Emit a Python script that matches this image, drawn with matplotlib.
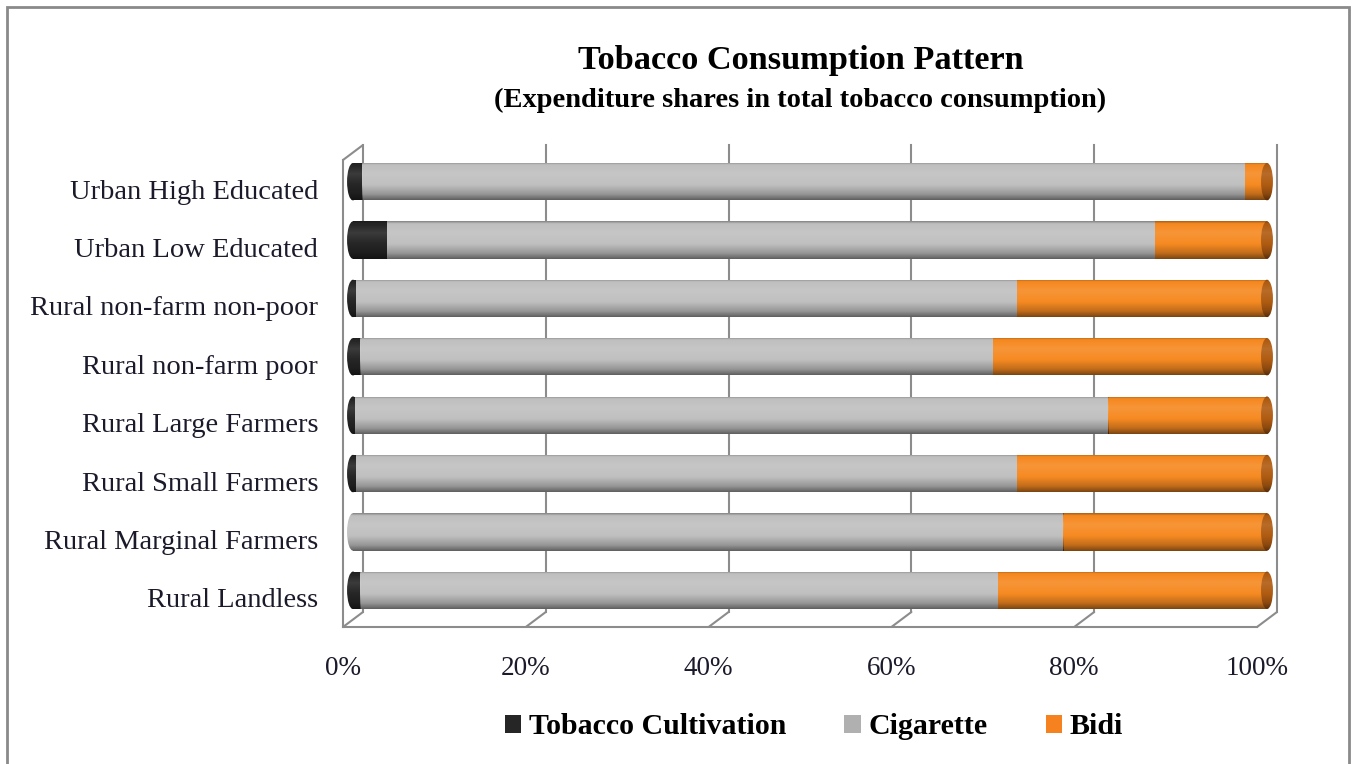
import numpy as np
import matplotlib
matplotlib.use("Agg")
import matplotlib.pyplot as plt
import matplotlib.transforms as mtransforms
from matplotlib.patches import Rectangle, Ellipse, Patch

# ---------------- data ----------------
categories = ["Urban High Educated", "Urban Low Educated", "Rural non-farm non-poor",
              "Rural non-farm poor", "Rural Large Farmers", "Rural Small Farmers",
              "Rural Marginal Farmers", "Rural Landless"]
tobacco_cultivation = [1.0, 3.7, 0.3, 0.8, 0.2, 0.3, 0.0, 0.8]
cigarette = [96.6, 84.0, 72.3, 69.2, 82.4, 72.3, 77.7, 69.8]
bidi = [2.4, 12.3, 27.4, 30.0, 17.4, 27.4, 22.3, 29.4]
series_names = ["Tobacco Cultivation", "Cigarette", "Bidi"]
x_ticks = [0, 20, 40, 60, 80, 100]
x_tick_labels = ["0%", "20%", "40%", "60%", "80%", "100%"]
title = "Tobacco Consumption Pattern"
subtitle = "(Expenditure shares in total tobacco consumption)"

# ---------------- style ----------------
colors = ["#262626", "#c0c0c0", "#f68a22"]
face_colors = ["#111111", "#8e8e8e", "#b05c12"]
legend_colors = ["#262626", "#b0b0b0", "#f5821f"]
wall_color = "#8c8c8c"
plt.rcParams["font.family"] = ["Liberation Serif", "DejaVu Serif"]

W, H = 1353, 764
fig = plt.figure(figsize=(W / 100, H / 100), dpi=100)
ax = fig.add_axes([343 / W, 1 - 627 / H, (1257 - 343) / W, (627 - 160) / H])
ax.set_xlim(0, 100)
ax.set_ylim(len(categories) - 0.5, -0.5)
ax.patch.set_alpha(0)

mid = ax.transData + mtransforms.ScaledTranslation(10 / 100, 7.5 / 100, fig.dpi_scale_trans)
back_x = ax.get_xaxis_transform() + mtransforms.ScaledTranslation(20 / 100, 15 / 100, fig.dpi_scale_trans)

# walls / gridlines
for t in x_ticks:
    ax.plot([t, t], [0, 1], transform=back_x, color=wall_color, lw=1.5, zorder=1, clip_on=False)
    ax.annotate("", xy=(t, 0), xycoords=ax.get_xaxis_transform(), xytext=(20, 15),
                textcoords="offset pixels",
                arrowprops=dict(arrowstyle="-", color=wall_color, lw=1.5, shrinkA=0, shrinkB=0),
                zorder=1, annotation_clip=False)
ax.annotate("", xy=(0, 1), xycoords="axes fraction", xytext=(20, 15),
            textcoords="offset pixels",
            arrowprops=dict(arrowstyle="-", color=wall_color, lw=1.5, shrinkA=0, shrinkB=0),
            zorder=1, annotation_clip=False)

for s in ["top", "right"]:
    ax.spines[s].set_visible(False)
for s in ["left", "bottom"]:
    ax.spines[s].set_color(wall_color)
    ax.spines[s].set_linewidth(1.5)

# gradient for cylinder shading
tt = np.linspace(0, 1, 64)
prof = np.interp(tt, [0, 0.06, 0.3, 0.6, 0.85, 1.0], [-0.3, -0.02, 0.1, 0.0, -0.22, -0.5])
grad = np.zeros((64, 1, 4))
grad[:, 0, :3] = np.where(prof[:, None] > 0, 1.0, 0.0)
grad[:, 0, 3] = np.abs(prof)

h = 0.64
cap_w = 1.3
series = [tobacco_cultivation, cigarette, bidi]


def shade(patch, x0, x1, y):
    im = ax.imshow(grad, extent=(x0, x1, y + h / 2, y - h / 2), transform=mid,
                   aspect="auto", interpolation="bilinear", zorder=patch.get_zorder() + 0.5)
    im.set_clip_box(fig.bbox)
    im.set_clip_path(patch)


for i in range(len(categories)):
    vals = [s[i] for s in series]
    first = next(k for k, v in enumerate(vals) if v > 0)
    last = max(k for k, v in enumerate(vals) if v > 0)
    # left rounded end
    e = Ellipse((0, i), cap_w, h, transform=mid, facecolor=colors[first], edgecolor="none",
                zorder=2, clip_on=False)
    ax.add_patch(e)
    shade(e, -cap_w, cap_w, i)
    left = 0.0
    for k, v in enumerate(vals):
        if v <= 0:
            continue
        r = Rectangle((left, i - h / 2), v, h, transform=mid, facecolor=colors[k],
                      edgecolor="none", zorder=3, clip_on=False)
        ax.add_patch(r)
        shade(r, left, left + v, i)
        left += v
    # right end face
    e2 = Ellipse((left, i), cap_w, h, transform=mid, facecolor=face_colors[last],
                 edgecolor="none", zorder=5, clip_on=False)
    ax.add_patch(e2)
    shade(e2, left - cap_w, left + cap_w, i)

ax.set_xlim(0, 100)
ax.set_ylim(len(categories) - 0.5, -0.5)
ax.set_xticks(x_ticks)
ax.set_xticklabels(x_tick_labels, fontsize=19.5, color="#1a1a2a")
ax.set_yticks(range(len(categories)))
ax.set_yticklabels(categories, fontsize=20.5, color="#1a1a2a")
ax.tick_params(axis="both", length=0)
ax.tick_params(axis="y", pad=18)
ax.tick_params(axis="x", pad=21)

fig.text(801 / W, 1 - 57 / H, title, ha="center", va="center_baseline", fontsize=24.7, fontweight="bold")
fig.text(800 / W, 1 - 97 / H, subtitle, ha="center", va="center_baseline", fontsize=20.5, fontweight="bold")

handles = [Patch(facecolor=c, edgecolor="none", label=n) for c, n in zip(legend_colors, series_names)]
fig.legend(handles=handles, loc="center", bbox_to_anchor=(814 / W, 1 - 727 / H), ncol=3,
           frameon=False, prop=dict(family="Liberation Serif", weight="bold", size=21.5),
           handlelength=0.55, handleheight=0.55, handletextpad=0.25, columnspacing=1.95)

fig.add_artist(Rectangle((7 / W, -0.02), (1349 - 7) / W, (H - 7) / H + 0.02,
                         transform=fig.transFigure, fill=False, edgecolor="#8a8a8a", lw=2))

fig.savefig("out.png", dpi=100)
